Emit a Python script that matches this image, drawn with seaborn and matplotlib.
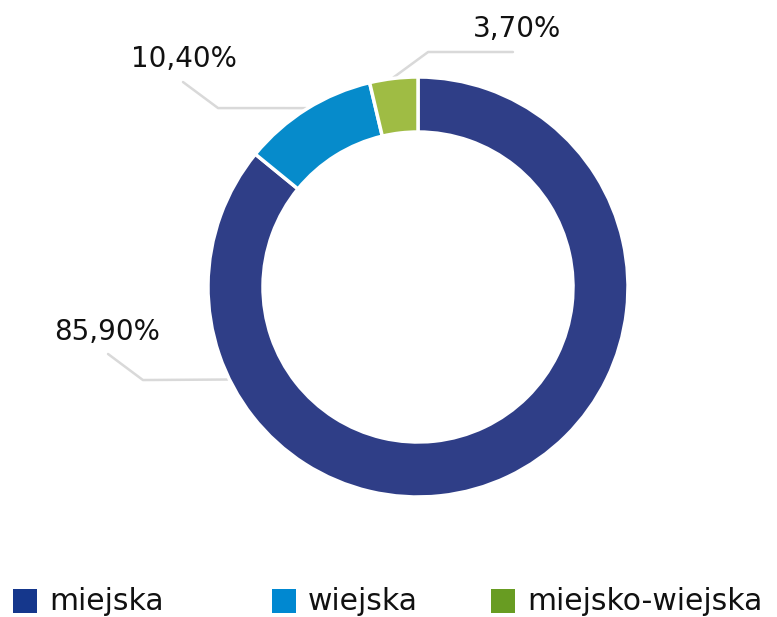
import numpy as np
import matplotlib
matplotlib.use("Agg")
import matplotlib.pyplot as plt
import seaborn as sns
from matplotlib.patches import Rectangle

# Dane
categories = ["miejska", "wiejska", "miejsko-wiejska"]
shares = [85.90, 10.40, 3.70]
value_labels = ["85,90%", "10,40%", "3,70%"]

slice_colors = ["#2f3e87", "#068bcb", "#9fbc44"]
legend_colors = ["#15378c", "#0088d1", "#689c22"]

sns.set_theme(style="white")
plt.rcParams["font.family"] = ["DejaVu Sans"]

W, H = 777, 617
fig = plt.figure(figsize=(W / 100, H / 100), dpi=100)

# srodek i promien wykresu w pikselach
cx, cy, R = 418, 287, 210
ax = fig.add_axes([(cx - R) / W, (H - cy - R) / H, 2 * R / W, 2 * R / H])

wedges, _ = ax.pie(shares, colors=slice_colors, startangle=90, counterclock=False,
                   radius=1.0,
                   wedgeprops=dict(width=55 / R, edgecolor="white", linewidth=2.5))
# pie() ustawia wlasne limity - nadpisujemy
ax.set_xlim(-1, 1)
ax.set_ylim(-1, 1)
ax.set_aspect("equal")
ax.axis("off")

# linie odniesienia: punkt na pierscieniu, zalamanie, koniec, pozycja etykiety
anchor_angles = [206, None, None]
elbows = [(-1.31, -0.443), (-0.952, 0.852), (0.048, 1.119)]
ends = [(-1.476, -0.319), (-1.119, 0.976), (0.452, 1.119)]
label_pos = [(-1.48, -0.215), (-1.114, 1.085), (0.471, 1.228)]

for i, w in enumerate(wedges):
    ang = anchor_angles[i]
    if ang is None:
        ang = (w.theta1 + w.theta2) / 2
    a = np.deg2rad(ang)
    p0 = (np.cos(a) * 1.005, np.sin(a) * 1.005)
    xs = [p0[0], elbows[i][0], ends[i][0]]
    ys = [p0[1], elbows[i][1], ends[i][1]]
    ax.plot(xs, ys, color="#d9d9d9", lw=1.8, clip_on=False, zorder=0)
    ax.text(label_pos[i][0], label_pos[i][1], value_labels[i], ha="center", va="center",
            fontsize=20, color="#111111", clip_on=False)

# legenda
leg_x = [13, 272, 491]
for x, name, col in zip(leg_x, categories, legend_colors):
    fig.add_artist(Rectangle((x / W, (H - 613) / H), 24 / W, 24 / H,
                             transform=fig.transFigure, facecolor=col, edgecolor="none"))
    fig.text((x + 36) / W, (H - 601) / H, name, ha="left", va="center",
             fontsize=21.5, color="#111111")

plt.savefig("out.png", dpi=100)
